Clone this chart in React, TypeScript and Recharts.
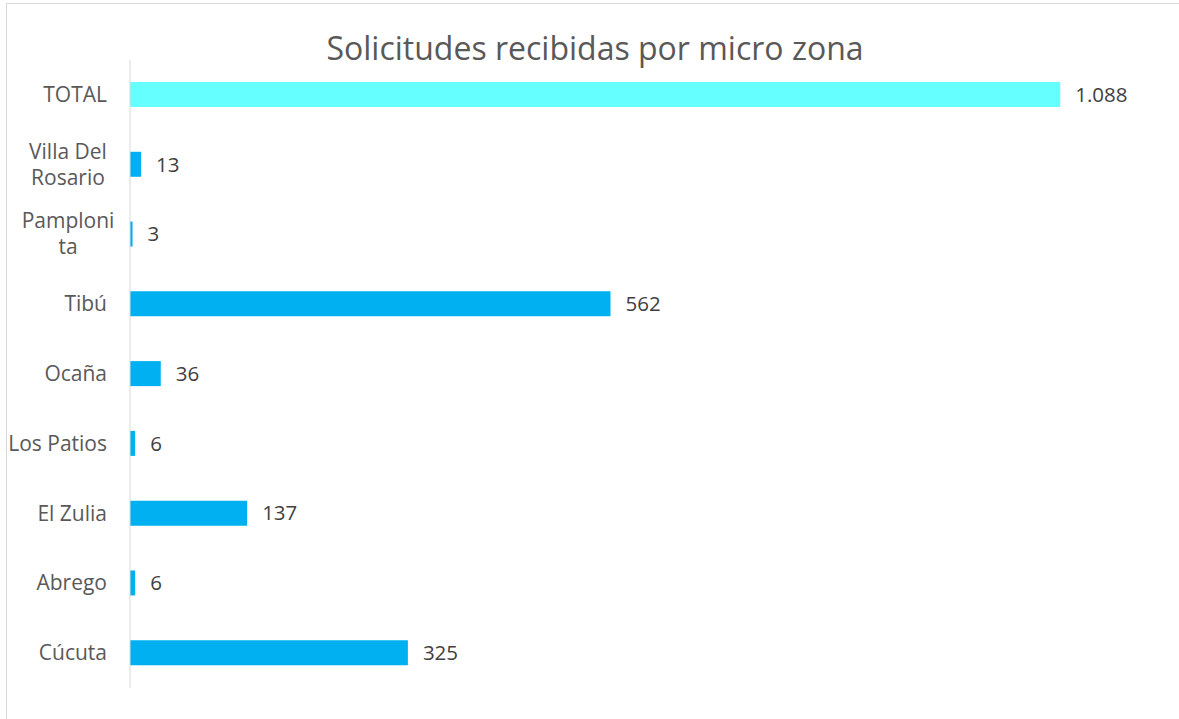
import { BarChart, Bar, XAxis, YAxis, Cell, LabelList } from 'recharts';

const ZONES = [
  'TOTAL',
  'Villa Del\nRosario',
  'Pamploni\nta',
  'Tibú',
  'Ocaña',
  'Los Patios',
  'El Zulia',
  'Abrego',
  'Cúcuta',
];
const REQUESTS = [1088, 13, 3, 562, 36, 6, 137, 6, 325];

const TITLE = 'Solicitudes recibidas por micro zona';
const FONT = '"Open Sans", "Noto Sans", sans-serif';

const chartData = ZONES.map((zone, i) => ({ zone, value: REQUESTS[i] }));

// thousands with a dot, like the spanish original
const fmt = (v: number) => v.toLocaleString('de-DE');

const ZoneTick = ({ x, y, payload }: any) => {
  const lines: string[] = String(payload.value).split('\n');
  if (lines.length === 1) {
    return (
      <text x={x - 15} y={y} dy={7} textAnchor="end" fill="#595959" fontSize={21} fontFamily={FONT}>
        {lines[0]}
      </text>
    );
  }
  return (
    <text x={x - 54} y={y} textAnchor="middle" fill="#595959" fontSize={21} fontFamily={FONT}>
      {lines.map((l, i) => (
        <tspan key={i} x={x - 54} dy={i === 0 ? -6 : 26}>
          {l}
        </tspan>
      ))}
    </text>
  );
};

export default function App() {
  return (
    <div style={{ position: 'absolute', left: 0, top: 0, width: 1179, height: 719, background: '#fff', overflow: 'hidden' }}>
      <div
        style={{
          position: 'absolute',
          left: 6,
          top: 3,
          width: 1190,
          height: 740,
          border: '1px solid #d9d9d9',
        }}
      />
      <div
        style={{
          position: 'absolute',
          left: 0,
          width: 1190,
          top: 28,
          textAlign: 'center',
          fontFamily: FONT,
          fontSize: 32,
          color: '#595959',
          lineHeight: '40px',
        }}
      >
        {TITLE}
      </div>
      <BarChart
        width={1179}
        height={719}
        data={chartData}
        layout="vertical"
        margin={{ top: 60, right: 23, bottom: 31, left: 8 }}
        style={{ position: 'absolute', left: 0, top: 0 }}
      >
        <XAxis type="number" domain={[0, 1200]} hide />
        <YAxis
          type="category"
          dataKey="zone"
          width={122}
          tickLine={false}
          axisLine={{ stroke: '#d9d9d9' }}
          tick={<ZoneTick />}
          interval={0}
        />
        <Bar dataKey="value" barSize={25} isAnimationActive={false}>
          {chartData.map((d) => (
            <Cell key={d.zone} fill={d.zone === 'TOTAL' ? '#66FFFF' : '#00B0F0'} />
          ))}
          <LabelList
            dataKey="value"
            position="right"
            offset={15}
            formatter={(v: any) => fmt(Number(v))}
            style={{ fill: '#404040', fontSize: 20.5, fontFamily: FONT }}
          />
        </Bar>
      </BarChart>
    </div>
  );
}
